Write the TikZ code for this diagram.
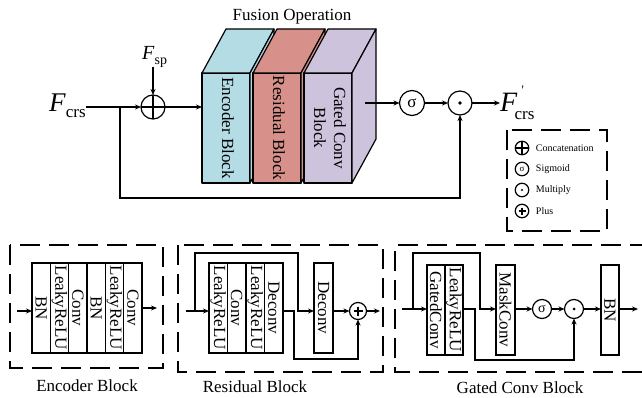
\documentclass[tikz,border=0pt]{standalone}
\usepackage{fontspec}
\setmainfont{Liberation Serif}
\usepackage{graphicx}
\usetikzlibrary{arrows.meta,calc}

\definecolor{encblue}{HTML}{B3DCE5}
\definecolor{resred}{HTML}{D8908A}
\definecolor{gatepurple}{HTML}{CDC3DC}

\tikzset{
  conn/.style={line width=1.2pt},
  arr/.style={conn,-{Stealth[length=6pt,width=5pt]}},
  dashbox/.style={line width=1.6pt, dash pattern=on 20pt off 9pt},
  layer/.style={draw, line width=1.2pt, minimum height=90pt, inner sep=0pt, outer sep=0pt,
    font=\fontsize{17}{17}\selectfont},
  face/.style={draw, line width=1.2pt, line join=round},
  op/.style={circle, draw, line width=1.2pt, inner sep=0pt, outer sep=0pt},
  lbl/.style={font=\fontsize{17}{20}\selectfont},
  legend/.style={font=\fontsize{10}{10}\selectfont, anchor=west, inner sep=1pt, xshift=6pt},
}

% a slab of the fusion stack: name, left x, colour, text
\newcommand\drawslab[4]{%
  \node[face, fill=#3, minimum width=48pt, minimum height=110pt, inner sep=0pt,
        outer sep=0pt, anchor=north west, lbl] (#1) at (#2,73)
        {\rotatebox{-90}{\begin{tabular}{@{}c@{}}#4\end{tabular}}};
  \filldraw[face, fill=#3] (#1.north west) -- ++(24,-44) -- ++(48,0) -- (#1.north east) -- cycle;
  \filldraw[face, fill=#3] (#1.north east) -- ++(24,-44) -- ++(0,110) -- (#1.south east) -- cycle;
}

\begin{document}
\begin{tikzpicture}[x=1pt,y=-1pt]
\useasboundingbox (0,0) rectangle (642,398);

% ---------------- fusion operation ----------------
\node[lbl] (fusiontitle) at (292,17) {Fusion Operation};

\drawslab{enc}{202}{encblue}{Encoder Block}
\drawslab{res}{253}{resred}{Residual Block}
\drawslab{gat}{304}{gatepurple}{Gated Conv\\Block}

\node[anchor=base west, inner sep=0pt] (fcrs) at (49,112)
  {\fontsize{27}{27}\selectfont\textit{F}\raisebox{-6pt}{\fontsize{17}{17}\selectfont crs}};
\node[anchor=base west, inner sep=0pt] (fsp) at (142,60)
  {\fontsize{20}{20}\selectfont\textit{F}\raisebox{-5pt}{\fontsize{14}{14}\selectfont sp}};
\node[anchor=base west, inner sep=0pt] (fout) at (500,112)
  {\fontsize{28}{28}\selectfont\textit{F}\rlap{\hspace{4pt}\raisebox{17pt}{\fontsize{13}{13}\selectfont\textquotesingle}}\kern-3pt\raisebox{-8pt}{\fontsize{17}{17}\selectfont crs}};

\node[op, minimum size=24pt] (cat) at (153,107) {};
\draw[conn] (cat.north) -- (cat.south) (cat.west) -- (cat.east);
\node[op, minimum size=25pt, font=\fontsize{17}{17}\selectfont] (sig) at (412,103) {σ};
\node[op, minimum size=24pt] (mul) at (460,103) {};
\fill (mul.center) circle (1.8pt);

\coordinate (fb) at (120,107);
\coordinate (gout) at (365,103);
\draw[arr] (fcrs.east |- cat) -- (cat.west);
\draw[arr] (cat.north |- 0,67) -- (cat.north);
\draw[arr] (cat.east) -- (cat.east -| enc.west);
\draw[arr] (gout) -- (sig.west);
\draw[arr] (sig.east) -- (mul.west);
\draw[arr] (mul.east) -- (fout.west |- mul);
\draw[arr] (fb) -- (fb |- 0,198) -| (mul.south);

% ---------------- legend ----------------
\draw[dashbox] (507,130) rectangle (607,231);
\node[op, minimum size=13.5pt] (lcat) at (522,148) {};
\draw[conn] (lcat.north) -- (lcat.south) (lcat.west) -- (lcat.east);
\node[legend] (lcattxt) at (lcat.east) {Concatenation};
\node[op, minimum size=13.5pt, font=\fontsize{9}{9}\selectfont] (lsig) at (522,169) {σ};
\node[legend] (lsigtxt) at (lsig.east) {Sigmoid};
\node[op, minimum size=13.5pt] (lmul) at (522,190) {};
\fill (lmul.center) circle (1.2pt);
\node[legend] (lmultxt) at (lmul.east) {Multiply};
\node[op, minimum size=13.5pt] (lplus) at (522,211) {};
\draw[conn] ($(lplus.center)+(-3.5,0)$) -- ++(7,0) ($(lplus.center)+(0,-3.5)$) -- ++(0,7);
\node[legend] (lplustxt) at (lplus.east) {Plus};

% ---------------- encoder block ----------------
\draw[dashbox] (10,245) rectangle (163,368);
\foreach \n/\x/\t in {e1/41.2/BN, e2/59.5/LeakyReLU, e3/77.8/Conv,
                      e4/96.2/BN, e5/114.5/LeakyReLU, e6/132.8/Conv}
  \node[layer, minimum width=18.33pt] (\n) at (\x,308) {\rotatebox{-90}{\t}};
\coordinate (ein) at (17,311);
\coordinate (eout) at (157,308);
\draw[arr] (ein) -- (ein -| e1.west);
\draw[arr] (e6.east) -- (eout);
\node[lbl] (encname) at (87,386) {Encoder Block};

% ---------------- residual block ----------------
\draw[dashbox] (178,245) rectangle (383,372);
\foreach \n/\x/\t in {r1/218.25/LeakyReLU, r2/236.75/Conv, r3/255.25/LeakyReLU, r4/273.75/Deconv}
  \node[layer, minimum width=18.5pt] (\n) at (\x,308) {\rotatebox{-90}{\t}};
\node[layer, minimum width=19pt] (rd) at (323.5,308) {\rotatebox{-90}{Deconv}};
\node[op, minimum size=17pt] (rp) at (358,311) {};
\draw[conn] ($(rp.center)+(-4.5,0)$) -- ++(9,0) ($(rp.center)+(0,-4.5)$) -- ++(0,9);
\coordinate (rin) at (186,311);
\coordinate (rsplit) at (195,311);
\coordinate (rout) at (380,311);
\draw[arr] (rin) -- (rin -| r1.west);
\draw[arr] (rsplit) |- (298,253) |- (rd.west |- rp);
\draw[arr] (r4.east |- rp) -- (294,311) -- (294,359) -| (rp.south);
\draw[arr] (rd.east |- rp) -- (rp.west);
\draw[arr] (rp.east) -- (rout);
\node[lbl] (resname) at (255,387) {Residual Block};

% ---------------- gated conv block ----------------
\draw[dashbox] (650,245) -- (395,245) -- (395,372) -- (650,372);
\node[layer, minimum width=18pt] (g1) at (436,310) {\rotatebox{-90}{GatedConv}};
\node[layer, minimum width=18pt] (g2) at (454,310) {\rotatebox{-90}{LeakyReLU}};
\node[layer, minimum width=19pt] (gm) at (505.5,310) {\rotatebox{-90}{MaskConv}};
\node[layer, minimum width=18pt] (gb) at (610,310) {\rotatebox{-90}{BN}};
\node[op, minimum size=19pt, font=\fontsize{14}{14}\selectfont] (gs) at (542,309) {σ};
\node[op, minimum size=19pt] (gx) at (574,309) {};
\fill (gx.center) circle (1.5pt);
\coordinate (gin) at (402,309);
\coordinate (gsplit) at (413,309);
\coordinate (gend) at (638,309);
\draw[arr] (gin) -- (gin -| g1.west);
\draw[arr] (gsplit) |- (480,253) |- (gm.west |- gs);
\draw[arr] (g2.east |- gs) -- (475,309) -- (475,360) -| (gx.south);
\draw[arr] (gm.east |- gs) -- (gs.west);
\draw[arr] (gs.east) -- (gx.west);
\draw[arr] (gx.east) -- (gb.west |- gs);
\draw[arr] (gb.east |- gs) -- (gend);
\node[lbl] (gatname) at (520,388) {Gated Conv Block};

\end{tikzpicture}
\end{document}
